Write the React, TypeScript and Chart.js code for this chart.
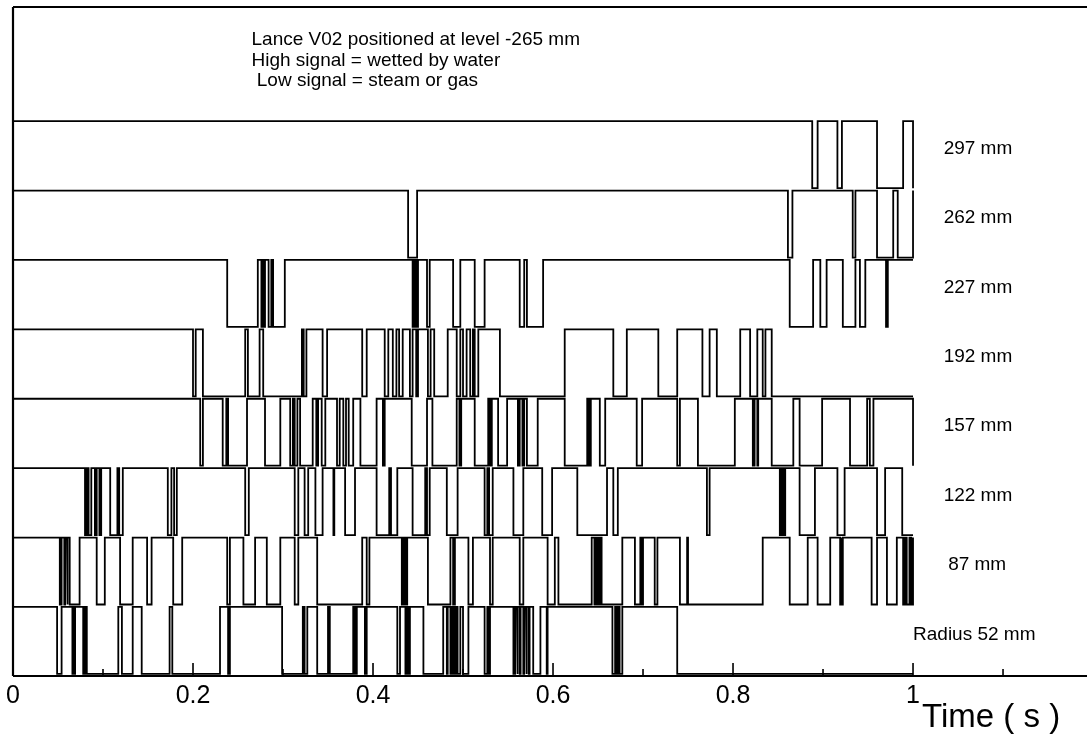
import React, { useEffect, useRef } from 'react';
import { Chart, registerables } from 'chart.js';

Chart.register(...registerables);

// ---------- data (times in seconds) ----------
const TRACE_LABELS = ['Radius 52 mm', '87 mm', '122 mm', '157 mm', '192 mm', '227 mm', '262 mm', '297 mm'];
const NOTE_LINES = ['Lance V02 positioned at level -265 mm', 'High signal = wetted by water', ' Low signal = steam or gas'];
const X_TICK_LABELS = ['0', '0.2', '0.4', '0.6', '0.8', '1'];
const AXIS_TITLE = 'Time ( s )';
const T_END = 1.0;

// signal toggle times; every trace starts high (wetted)
const t52 = [0.049, 0.054, 0.066, 0.067, 0.068, 0.069, 0.078, 0.080, 0.082, 0.117, 0.121, 0.133, 0.143, 0.174, 0.177, 0.230, 0.239, 0.241, 0.299, 0.322, 0.324, 0.327, 0.338, 0.350, 0.352, 0.378, 0.380, 0.382, 0.391, 0.393, 0.427, 0.430, 0.436, 0.438, 0.439, 0.441, 0.456, 0.478, 0.482, 0.483, 0.486, 0.488, 0.490, 0.492, 0.494, 0.497, 0.500, 0.506, 0.524, 0.527, 0.528, 0.530, 0.556, 0.558, 0.560, 0.561, 0.563, 0.564, 0.567, 0.568, 0.570, 0.571, 0.573, 0.574, 0.578, 0.586, 0.593, 0.594, 0.666, 0.669, 0.671, 0.672, 0.674, 0.677, 0.738];
const t87 = [0.052, 0.054, 0.057, 0.058, 0.060, 0.061, 0.063, 0.074, 0.093, 0.102, 0.119, 0.133, 0.149, 0.154, 0.178, 0.188, 0.238, 0.241, 0.256, 0.269, 0.282, 0.297, 0.313, 0.317, 0.338, 0.388, 0.393, 0.396, 0.432, 0.434, 0.436, 0.438, 0.461, 0.486, 0.489, 0.491, 0.506, 0.511, 0.530, 0.533, 0.563, 0.567, 0.594, 0.602, 0.606, 0.643, 0.646, 0.648, 0.650, 0.652, 0.654, 0.677, 0.691, 0.697, 0.699, 0.700, 0.713, 0.716, 0.741, 0.749, 0.750, 0.833, 0.863, 0.883, 0.894, 0.908, 0.919, 0.920, 0.921, 0.922, 0.954, 0.960, 0.971, 0.982, 0.989, 0.991, 0.993, 0.996, 0.998, 1.000];
const t122 = [0.080, 0.082, 0.084, 0.087, 0.091, 0.093, 0.096, 0.098, 0.108, 0.116, 0.118, 0.122, 0.172, 0.176, 0.179, 0.182, 0.258, 0.262, 0.313, 0.317, 0.324, 0.328, 0.336, 0.344, 0.356, 0.357, 0.369, 0.380, 0.404, 0.418, 0.420, 0.427, 0.444, 0.458, 0.460, 0.463, 0.482, 0.494, 0.524, 0.527, 0.529, 0.533, 0.556, 0.567, 0.588, 0.599, 0.627, 0.660, 0.667, 0.672, 0.771, 0.774, 0.852, 0.854, 0.856, 0.858, 0.874, 0.891, 0.916, 0.924, 0.960, 0.969, 0.988];
const t157 = [0.208, 0.211, 0.233, 0.237, 0.239, 0.260, 0.280, 0.297, 0.308, 0.311, 0.313, 0.316, 0.319, 0.333, 0.337, 0.339, 0.343, 0.347, 0.360, 0.363, 0.367, 0.370, 0.373, 0.378, 0.386, 0.404, 0.411, 0.413, 0.443, 0.460, 0.466, 0.493, 0.496, 0.498, 0.513, 0.528, 0.530, 0.532, 0.539, 0.549, 0.561, 0.563, 0.566, 0.568, 0.571, 0.583, 0.613, 0.638, 0.640, 0.642, 0.652, 0.658, 0.693, 0.699, 0.738, 0.741, 0.761, 0.802, 0.822, 0.824, 0.827, 0.828, 0.843, 0.867, 0.874, 0.899, 0.930, 0.949, 0.952, 0.956, 1.000];
const t192 = [0.200, 0.203, 0.211, 0.258, 0.261, 0.274, 0.278, 0.321, 0.323, 0.326, 0.344, 0.349, 0.388, 0.393, 0.413, 0.417, 0.422, 0.426, 0.429, 0.433, 0.441, 0.444, 0.448, 0.450, 0.461, 0.464, 0.468, 0.483, 0.493, 0.497, 0.500, 0.504, 0.508, 0.511, 0.513, 0.517, 0.541, 0.613, 0.667, 0.682, 0.717, 0.738, 0.766, 0.774, 0.782, 0.808, 0.819, 0.827, 0.833, 0.836, 0.843];
const t227 = [0.238, 0.272, 0.276, 0.277, 0.279, 0.280, 0.284, 0.287, 0.289, 0.302, 0.444, 0.446, 0.447, 0.448, 0.449, 0.450, 0.460, 0.463, 0.489, 0.497, 0.513, 0.524, 0.563, 0.568, 0.571, 0.589, 0.863, 0.889, 0.897, 0.904, 0.922, 0.936, 0.941, 0.947, 0.970, 0.972];
const t262 = [0.439, 0.449, 0.861, 0.866, 0.933, 0.936, 0.960, 0.978, 0.983, 1.000];
const t297 = [0.888, 0.894, 0.916, 0.921, 0.960, 0.989, 1.000];

const TRACES = [t52, t87, t122, t157, t192, t227, t262, t297];

// ---------- styling ----------
const FONT = "Arial, 'Liberation Sans', Helvetica, sans-serif";
const AMP = 0.965; // signal swing, in trace-spacing units
const X_MAX = 1.1933;
const Y_MIN = -0.03;
const Y_MAX = 9.61;

function buildPoints(toggles: number[], base: number) {
  let high = true;
  const lvl = () => (high ? base + AMP : base);
  const pts: { x: number; y: number }[] = [{ x: 0, y: lvl() }];
  for (const t of toggles) {
    const y0 = lvl();
    high = !high;
    pts.push({ x: t, y: y0 }, { x: t, y: lvl() });
  }
  pts.push({ x: T_END, y: lvl() });
  return pts;
}

const framePlugin = {
  id: 'frame',
  afterDatasetsDraw(chart: any) {
    const { ctx, chartArea, scales } = chart;
    const W = chart.width;
    const xs = scales.x;
    ctx.save();
    ctx.strokeStyle = '#000';
    ctx.lineWidth = 2.2;
    ctx.lineCap = 'butt';
    ctx.beginPath();
    ctx.moveTo(chartArea.left, chartArea.top);
    ctx.lineTo(W, chartArea.top);
    ctx.moveTo(chartArea.left, chartArea.top);
    ctx.lineTo(chartArea.left, chartArea.bottom);
    ctx.moveTo(chartArea.left, chartArea.bottom);
    ctx.lineTo(W, chartArea.bottom);
    ctx.stroke();
    // inward tick marks
    ctx.lineWidth = 1.6;
    ctx.beginPath();
    xs.ticks.forEach((tk: any, i: number) => {
      const px = xs.getPixelForValue(tk.value);
      const len = i % 2 === 0 ? 13 : 7;
      ctx.moveTo(px, chartArea.bottom);
      ctx.lineTo(px, chartArea.bottom - len);
    });
    ctx.stroke();
    ctx.restore();
  },
};

const textPlugin = {
  id: 'texts',
  afterDraw(chart: any) {
    const { ctx, scales, chartArea } = chart;
    const xs = scales.x;
    const ys = scales.y;
    ctx.save();
    ctx.fillStyle = '#000';
    ctx.textBaseline = 'middle';
    ctx.textAlign = 'left';
    // note block
    ctx.font = `19px ${FONT}`;
    NOTE_LINES.forEach((line, i) => {
      ctx.fillText(line, xs.getPixelForValue(0.265), 40 + i * 20.5);
    });
    // trace labels
    ctx.font = `19px ${FONT}`;
    TRACE_LABELS.forEach((lab, i) => {
      let xv = 1.034;
      if (i === 0) xv = 1.0;
      if (i === 1) xv = 1.039;
      ctx.fillText(lab, xs.getPixelForValue(xv), ys.getPixelForValue(i + 0.57));
    });
    // axis title
    ctx.font = `33px ${FONT}`;
    ctx.fillText(AXIS_TITLE, xs.getPixelForValue(1.01), chartArea.bottom + 42);
    ctx.restore();
  },
};

export default function App() {
  const ref = useRef<HTMLCanvasElement | null>(null);

  useEffect(() => {
    document.body.style.margin = '0';
    const canvas = ref.current;
    if (!canvas) return;
    const datasets = TRACES.map((tg, i) => ({
      label: TRACE_LABELS[i],
      data: buildPoints(tg, i),
      borderColor: '#000',
      backgroundColor: '#000',
      borderWidth: 1.8,
      pointRadius: 0,
      fill: false,
      tension: 0,
    }));
    const chart = new Chart(canvas, {
      type: 'line',
      data: { datasets },
      options: {
        animation: false,
        responsive: false,
        events: [],
        layout: { padding: { left: 13, top: 7, right: 0, bottom: 0 } },
        plugins: {
          legend: { display: false },
          tooltip: { enabled: false },
          title: { display: false },
        },
        scales: {
          x: {
            type: 'linear',
            min: 0,
            max: X_MAX,
            afterFit: (s: any) => {
              s.height = 66;
            },
            grid: { display: false, drawTicks: false },
            border: { display: false },
            ticks: {
              stepSize: 0.1,
              includeBounds: false,
              autoSkip: false,
              maxRotation: 0,
              padding: 5,
              color: '#000',
              font: { family: FONT, size: 25 },
              callback: (v: any) => {
                const k = Math.round(Number(v) * 10);
                if (k % 2 !== 0) return '';
                return X_TICK_LABELS[k / 2] ?? '';
              },
            },
          },
          y: { display: false, min: Y_MIN, max: Y_MAX },
        },
      },
      plugins: [framePlugin, textPlugin],
    });
    return () => chart.destroy();
  }, []);

  return (
    <div style={{ position: 'fixed', left: 0, top: 0, width: 1087, height: 742, background: '#fff' }}>
      <canvas ref={ref} width={1087} height={742} style={{ width: 1087, height: 742, display: 'block' }} />
    </div>
  );
}
